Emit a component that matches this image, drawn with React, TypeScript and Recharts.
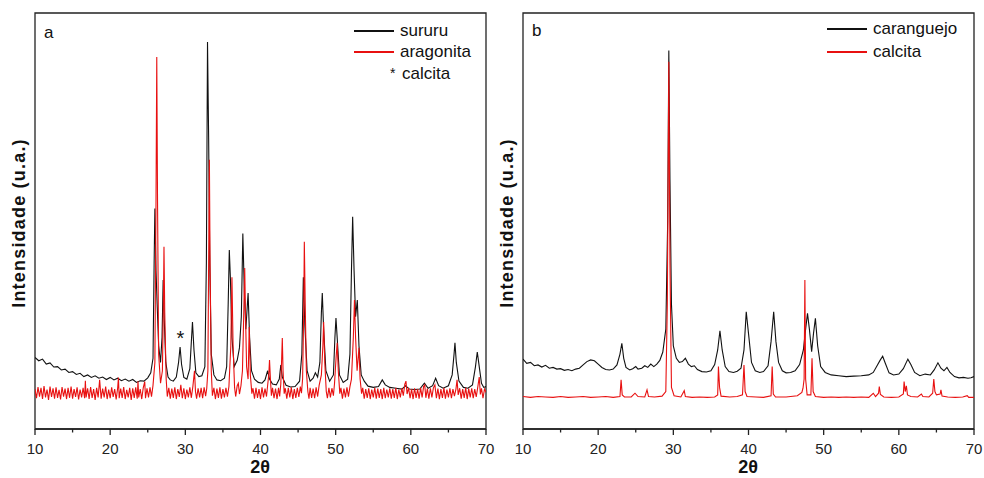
import React from "react";
import { LineChart, Line, XAxis, YAxis, ReferenceArea, ReferenceDot } from "recharts";

// 2θ (graus) x intensidade relativa (0–100)
const xTicks = [10, 15, 20, 25, 30, 35, 40, 45, 50, 55, 60, 65, 70];

const sururu: [number, number][] = [
  [10, 17.2], [10.5, 16.4], [11, 16.8], [11.5, 15.6], [12, 15.9], [12.5, 14.9], [13, 15.0], [13.5, 14.2], [14, 14.4],
  [14.5, 13.6], [15, 13.8], [15.5, 13.1], [16, 13.4], [16.5, 12.6], [17, 13.0], [17.5, 12.4], [18, 12.8], [18.5, 12.2],
  [19, 12.5], [19.5, 11.9], [20, 12.4], [20.5, 11.8], [21, 12.2], [21.5, 11.6], [22, 12.0], [22.5, 11.5], [23, 11.9],
  [23.5, 11.2], [24, 11.6], [24.5, 11.5], [25, 12.3], [25.4, 13.5], [25.7, 17], [25.85, 40], [25.95, 53], [26.1, 38],
  [26.25, 30], [26.45, 20], [26.7, 16], [26.9, 22], [27.05, 35.8], [27.2, 26], [27.4, 16], [27.7, 12.5], [28, 11.8],
  [28.4, 11.5], [28.8, 12.5], [29.1, 16], [29.3, 19.7], [29.5, 15.5], [29.8, 12.4], [30.2, 12.0], [30.6, 14.5],
  [30.8, 21], [30.95, 25.7], [31.15, 19], [31.4, 13.5], [31.8, 12.6], [32.2, 12.8], [32.6, 15], [32.8, 40], [32.95, 93],
  [33.1, 70], [33.25, 40], [33.45, 18], [33.8, 13], [34.2, 11.8], [34.7, 11.6], [35.2, 12.2], [35.5, 15], [35.7, 30],
  [35.85, 43], [36.0, 36], [36.2, 22], [36.5, 15], [36.9, 16.5], [37.2, 19.5], [37.45, 27], [37.65, 47], [37.85, 33],
  [38.05, 24], [38.35, 32.7], [38.55, 22], [38.8, 14], [39.2, 12], [39.7, 11.2], [40.2, 11.0], [40.6, 11.8], [40.95, 14],
  [41.2, 12], [41.6, 10.8], [42.1, 10.6], [42.5, 12], [42.7, 15.4], [42.9, 12.5], [43.4, 10.5], [44, 10.1], [44.6, 10.2],
  [45.2, 11.5], [45.5, 18], [45.7, 36.5], [45.9, 25], [46.2, 14], [46.6, 11.5], [47.0, 12.2], [47.3, 13.5], [47.6, 12.5],
  [47.9, 16], [48.1, 28], [48.22, 32.7], [48.4, 24], [48.7, 14], [49.2, 11.5], [49.7, 13], [49.9, 22], [50.04, 26.7],
  [50.2, 22], [50.5, 13], [51.0, 11.2], [51.6, 12], [51.9, 18], [52.1, 38], [52.26, 51], [52.45, 38], [52.65, 27],
  [52.88, 31], [53.1, 20], [53.4, 13], [53.8, 11.5], [54.3, 10.3], [55.0, 10.0], [55.7, 10.2], [56.2, 11.8], [56.6, 10.6],
  [57.2, 10.0], [58, 9.8], [58.8, 9.6], [59.3, 10.4], [59.8, 9.6], [60.5, 9.5], [61.2, 9.6], [61.8, 11], [62.3, 9.8],
  [62.9, 10.4], [63.3, 12.2], [63.7, 10.4], [64.3, 9.8], [65.0, 10.4], [65.5, 13], [65.75, 18], [65.87, 20.7], [66.05, 16],
  [66.4, 11.5], [67, 10.0], [67.6, 9.8], [68.2, 10.6], [68.6, 15], [68.84, 18.5], [69.1, 15], [69.4, 11], [69.7, 10], [70, 10.2],
];

const aragonita: [number, number][] = [
  [10.0, 9.6], [10.2, 7.4], [10.4, 10.1], [10.6, 7.8], [10.8, 9.9], [11.0, 7.2], [11.2, 10.3], [11.4, 7.6], [11.6, 9.5],
  [11.8, 7.0], [12.0, 10.2], [12.2, 7.7], [12.4, 9.8], [12.6, 7.3], [12.8, 10.0], [13.0, 7.5], [13.2, 9.4], [13.4, 7.1],
  [13.6, 10.1], [13.8, 7.8], [14.0, 9.7], [14.2, 7.2], [14.4, 9.9], [14.6, 7.5], [14.8, 10.2], [15.0, 7.3], [15.2, 9.6],
  [15.4, 7.7], [15.6, 10.0], [15.8, 7.1], [16.0, 9.5], [16.2, 7.6], [16.4, 9.9], [16.6, 7.4], [16.7, 11.6], [16.8, 7.6],
  [17.0, 9.8], [17.2, 7.2], [17.4, 10.1], [17.6, 7.5], [17.8, 9.6], [18.0, 7.0], [18.2, 9.9], [18.4, 7.6], [18.6, 11.8],
  [18.8, 7.3], [19.0, 9.7], [19.2, 7.6], [19.4, 10.2], [19.6, 7.2], [19.8, 9.5], [20.0, 7.4], [20.2, 10.0], [20.4, 7.7],
  [20.6, 9.6], [20.8, 7.1], [21.0, 9.9], [21.1, 12.4], [21.2, 7.4], [21.4, 9.7], [21.6, 7.5], [21.8, 10.1], [22.0, 7.2],
  [22.2, 9.4], [22.4, 7.6], [22.6, 9.9], [22.8, 7.0], [23.0, 9.8], [23.2, 7.5], [23.4, 10.0], [23.6, 7.3], [23.7, 11.5],
  [23.8, 7.6], [24.0, 9.6], [24.2, 7.2], [24.4, 9.9], [24.6, 11.4], [24.7, 7.4], [24.9, 9.8], [25.1, 7.6], [25.3, 10.0],
  [25.5, 7.8], [25.7, 10.5], [25.95, 16], [26.1, 55], [26.2, 89.4], [26.3, 55], [26.45, 18], [26.7, 11], [26.95, 14],
  [27.08, 30], [27.16, 43.8], [27.26, 28], [27.45, 12], [27.6, 7.8], [27.8, 9.9], [28.0, 7.3], [28.2, 9.7], [28.4, 7.5],
  [28.6, 10.0], [28.8, 7.2], [29.0, 9.6], [29.2, 7.7], [29.4, 10.6], [29.6, 7.4], [29.8, 9.8], [30.0, 7.2], [30.2, 9.5],
  [30.4, 7.6], [30.6, 10.0], [30.8, 7.5], [31.0, 10.2], [31.22, 14], [31.35, 9], [31.5, 7.3], [31.7, 9.8], [31.9, 7.6],
  [32.1, 9.9], [32.3, 7.4], [32.5, 10.0], [32.7, 7.9], [32.85, 9.8], [33.0, 14], [33.1, 40], [33.2, 64.7], [33.3, 38],
  [33.45, 14], [33.6, 8.0], [33.8, 9.9], [34.0, 7.2], [34.2, 9.7], [34.4, 7.5], [34.6, 10.0], [34.8, 7.3], [35.0, 9.6],
  [35.2, 7.6], [35.4, 9.9], [35.6, 7.8], [35.8, 10.2], [36.05, 20], [36.2, 36.5], [36.35, 20], [36.55, 10], [36.7, 7.8],
  [36.9, 10.4], [37.05, 11], [37.2, 8.4], [37.4, 10.4], [37.6, 14], [37.8, 30], [37.9, 38.7], [38.0, 28], [38.15, 15],
  [38.35, 12], [38.5, 24.5], [38.65, 13], [38.85, 8.5], [39.0, 9.8], [39.2, 7.3], [39.4, 9.9], [39.6, 7.5], [39.8, 9.6],
  [40.0, 7.2], [40.2, 10.0], [40.4, 7.6], [40.6, 9.7], [40.8, 7.8], [40.95, 10.5], [41.1, 13], [41.2, 16.6], [41.32, 12],
  [41.45, 8], [41.6, 9.9], [41.8, 7.4], [42.0, 9.7], [42.2, 7.2], [42.4, 9.9], [42.55, 7.8], [42.7, 10.8], [42.8, 16],
  [42.9, 21.9], [43.0, 14], [43.15, 8.5], [43.3, 9.8], [43.5, 7.3], [43.7, 9.9], [43.9, 7.6], [44.1, 10.0], [44.3, 7.2],
  [44.5, 9.6], [44.7, 7.5], [44.9, 9.9], [45.1, 7.7], [45.3, 10.2], [45.45, 8.6], [45.6, 12], [45.75, 28], [45.83, 45],
  [45.95, 30], [46.1, 14], [46.3, 9], [46.45, 7.3], [46.6, 9.9], [46.8, 7.5], [47.0, 9.7], [47.2, 7.4], [47.4, 10.0],
  [47.6, 7.8], [47.8, 10.5], [48.1, 13], [48.3, 20], [48.4, 25.7], [48.55, 16], [48.75, 9], [48.9, 7.4], [49.1, 9.9],
  [49.3, 7.6], [49.5, 9.8], [49.7, 8.0], [49.85, 11], [50.05, 17], [50.2, 20.7], [50.35, 14], [50.55, 8.5], [50.7, 9.9],
  [50.9, 7.3], [51.1, 9.7], [51.3, 7.6], [51.5, 10.0], [51.7, 7.8], [51.9, 10.2], [52.1, 12], [52.35, 22], [52.5, 31],
  [52.65, 22], [52.85, 14], [53.1, 19.5], [53.25, 12], [53.45, 8.5], [53.6, 9.9], [53.8, 7.3], [54.0, 9.6], [54.2, 7.5],
  [54.4, 9.8], [54.6, 7.2], [54.8, 9.5], [55.0, 7.6], [55.2, 9.9], [55.4, 7.3], [55.6, 9.7], [55.8, 7.5], [56.0, 9.6],
  [56.2, 7.2], [56.4, 9.9], [56.6, 7.4], [56.8, 9.5], [57.0, 7.6], [57.2, 9.8], [57.4, 7.3], [57.6, 9.6], [57.8, 7.5],
  [58.0, 9.9], [58.2, 7.2], [58.4, 9.5], [58.6, 7.6], [58.8, 9.8], [59.0, 8.0], [59.2, 10.8], [59.35, 11.5], [59.5, 8.4],
  [59.7, 9.9], [59.9, 7.4], [60.1, 9.6], [60.3, 7.2], [60.5, 9.8], [60.7, 7.5], [60.9, 9.6], [61.1, 7.3], [61.3, 9.9],
  [61.5, 7.6], [61.7, 10.2], [61.85, 10.6], [62.0, 7.5], [62.2, 9.7], [62.4, 7.3], [62.6, 9.8], [62.8, 7.6], [63.0, 9.9],
  [63.2, 10.6], [63.4, 7.4], [63.6, 9.7], [63.8, 7.2], [64.0, 9.6], [64.2, 7.5], [64.4, 9.9], [64.6, 7.3], [64.8, 9.5],
  [65.0, 7.6], [65.2, 9.8], [65.4, 7.4], [65.6, 9.6], [65.8, 7.9], [66.0, 9.6], [66.15, 11.8], [66.3, 8.2], [66.5, 9.8],
  [66.7, 7.3], [66.9, 9.6], [67.1, 7.5], [67.3, 9.9], [67.5, 7.2], [67.7, 9.7], [67.9, 7.6], [68.1, 9.8], [68.3, 7.4],
  [68.5, 9.6], [68.7, 7.7], [68.9, 10.0], [69.1, 12.5], [69.25, 8.3], [69.4, 9.8], [69.6, 7.4], [69.8, 9.6], [70.0, 8.8],
];

const caranguejo: [number, number][] = [
  [10, 16.8], [10.5, 15.8], [11, 16.0], [11.5, 15.2], [12, 15.4], [12.5, 14.9], [13, 15.3], [13.5, 14.6], [14, 14.8],
  [14.5, 14.4], [15, 14.5], [15.5, 14.1], [16, 14.3], [16.5, 14.0], [17, 14.4], [17.5, 14.6], [18, 15.4], [18.5, 16.2],
  [19.0, 16.6], [19.5, 16.4], [20.0, 15.6], [20.5, 14.8], [21, 14.3], [21.5, 14.2], [22, 14.4], [22.5, 15.4], [22.9, 18],
  [23.15, 20.6], [23.4, 17], [23.7, 14.8], [24.2, 14.2], [24.6, 14.5], [25.0, 15.0], [25.3, 14.4], [25.8, 14.6],
  [26.2, 15.2], [26.6, 14.8], [27.0, 15.6], [27.4, 15.0], [27.8, 15.6], [28.2, 16.5], [28.6, 18.5], [29.0, 24],
  [29.25, 50], [29.4, 91], [29.55, 60], [29.75, 30], [30.0, 20], [30.4, 17], [30.8, 16.0], [31.2, 16.2], [31.6, 17.0],
  [32.0, 15.6], [32.4, 15.0], [32.8, 15.2], [33.2, 14.3], [33.8, 13.8], [34.4, 13.7], [35.0, 14.0], [35.5, 15.5],
  [35.9, 19], [36.2, 23.6], [36.5, 19], [36.9, 15], [37.4, 13.8], [38.0, 13.6], [38.5, 13.9], [39.0, 14.6], [39.4, 19],
  [39.7, 28.2], [40.0, 23], [40.4, 16], [40.9, 14.0], [41.5, 13.6], [42.0, 13.8], [42.6, 15.2], [43.0, 21], [43.35, 28.2],
  [43.65, 21], [44.0, 16], [44.5, 14.0], [45.0, 13.5], [45.6, 13.6], [46.2, 14], [46.8, 15.5], [47.3, 19], [47.6, 24],
  [47.85, 27.8], [48.1, 24], [48.4, 18.6], [48.65, 23], [48.9, 26.6], [49.2, 20], [49.6, 15], [50.2, 13.6], [51, 13.0],
  [52, 12.8], [53, 12.6], [54, 12.7], [55, 12.8], [56, 13.0], [56.6, 13.6], [57.1, 15.2], [57.5, 16.5], [57.85, 17.5],
  [58.2, 15.8], [58.7, 13.5], [59.3, 13.0], [60.0, 13.2], [60.6, 14.5], [61.2, 16.8], [61.6, 15.5], [62.1, 13.6],
  [62.8, 12.8], [63.5, 13.2], [64.2, 13.0], [64.7, 14.2], [65.2, 15.9], [65.6, 14.6], [66.0, 14.0], [66.4, 14.8],
  [66.8, 13.6], [67.4, 12.6], [68, 12.3], [68.6, 12.4], [69.2, 12.2], [69.6, 12.3], [70, 12.6],
];

const calcita: [number, number][] = [
  [10, 7.8], [11, 7.6], [12, 7.8], [13, 7.7], [14, 7.6], [15, 7.8], [16, 7.6], [17, 7.7], [18, 7.8], [19, 7.6], [20, 7.7],
  [21, 7.8], [22, 7.6], [22.9, 7.8], [23.05, 11.8], [23.2, 8.2], [23.5, 7.7], [24.4, 7.7], [24.9, 8.6], [25.3, 7.8],
  [26.2, 7.7], [26.5, 9.4], [26.7, 7.8], [27.5, 7.7], [28.5, 7.9], [29.0, 9], [29.2, 30], [29.4, 88.3], [29.55, 40],
  [29.75, 10], [30.1, 8], [31.0, 7.7], [31.45, 9.2], [31.6, 7.8], [32.5, 7.6], [33.5, 7.7], [34.5, 7.6], [35.5, 7.7],
  [35.9, 8.2], [36.0, 15], [36.15, 10], [36.35, 7.9], [37.5, 7.7], [38.5, 7.8], [39.2, 8.2], [39.4, 15.4], [39.55, 9],
  [39.8, 7.8], [41, 7.7], [42, 7.6], [43.0, 8.0], [43.15, 15], [43.3, 8.4], [43.6, 7.7], [45, 7.7], [46.5, 8.0],
  [47.1, 8.8], [47.25, 9.8], [47.4, 12], [47.5, 35.8], [47.6, 12], [47.8, 8.2], [48.3, 8.2], [48.45, 17], [48.6, 9],
  [48.9, 7.8], [50, 7.6], [51, 7.7], [52, 7.6], [53, 7.7], [54, 7.6], [55, 7.7], [56.0, 7.6], [56.6, 8.6], [56.9, 7.8],
  [57.3, 8.6], [57.4, 10.2], [57.55, 8.3], [58, 7.7], [59, 7.6], [60, 7.7], [60.6, 8.4], [60.7, 11.4], [60.85, 9],
  [61.0, 10.4], [61.15, 8.2], [61.6, 7.8], [62.5, 7.7], [63.0, 8.4], [63.2, 7.8], [64.0, 7.7], [64.5, 8.6], [64.65, 12.0],
  [64.8, 9], [65.0, 8.2], [65.5, 8.4], [65.6, 9.4], [65.75, 7.9], [66.5, 7.7], [67.5, 7.6], [68.5, 7.7], [69.1, 8.0],
  [69.3, 7.6], [70, 7.6],
];

const BLACK = "#111";
const RED = "#e81010";
const FONT = "'Liberation Sans', Arial, sans-serif";

const toRows = (pts: [number, number][]) => pts.map(([x, y]) => ({ x, y }));

function Tick(props: any) {
  const { x, y, payload } = props;
  const major = payload.value % 10 === 0;
  return (
    <g>
      <line x1={x} y1={y} x2={x} y2={y + (major ? 6 : 3.5)} stroke="#222" strokeWidth={1.3} />
      {major && (
        <text x={x} y={y + 25} textAnchor="middle" fontSize={15} fill="#222" fontFamily={FONT}>
          {payload.value}
        </text>
      )}
    </g>
  );
}

type Series = { name: string; color: string; pts: [number, number][] };

// plot box: 451px wide from `left + 35`, from y=13 to y=429
function Panel({ left, width, series, children }: { left: number; width: number; series: Series[]; children?: React.ReactNode }) {
  return (
    <div style={{ position: "absolute", left, top: 0, width, height: 478 }}>
      <LineChart width={width} height={478} margin={{ top: 13, left: 35, right: width - 486, bottom: 0 }}>
        <XAxis
          type="number"
          dataKey="x"
          domain={[10, 70]}
          ticks={xTicks}
          allowDataOverflow
          height={49}
          tickSize={0}
          tickMargin={0}
          tickLine={false}
          tick={<Tick />}
          axisLine={{ stroke: "#222", strokeWidth: 1.3 }}
          interval={0}
        />
        <YAxis type="number" domain={[0, 100]} hide allowDataOverflow />
        <ReferenceArea x1={10} x2={70} y1={0} y2={100} fill="none" stroke="#222" strokeWidth={1.3} ifOverflow="visible" />
        {series.map((s) => (
          <Line
            key={s.name}
            data={toRows(s.pts)}
            dataKey="y"
            type="linear"
            stroke={s.color}
            strokeWidth={1.1}
            dot={false}
            isAnimationActive={false}
          />
        ))}
        {children}
      </LineChart>
    </div>
  );
}

const txt: React.CSSProperties = { position: "absolute", fontFamily: FONT, color: "#111", whiteSpace: "nowrap", lineHeight: 1 };

function LegendRow({ x, y, color, label }: { x: number; y: number; color: string; label: string }) {
  return (
    <>
      <div style={{ position: "absolute", left: x, top: y - 0.6, width: 40, height: 1.4, background: color }} />
      <div style={{ ...txt, left: x + 46, top: y - 9, fontSize: 17 }}>{label}</div>
    </>
  );
}

function YLabel({ cx }: { cx: number }) {
  return (
    <div
      style={{
        ...txt,
        left: cx,
        top: 223,
        fontSize: 18,
        fontWeight: "bold",
        letterSpacing: 1.2,
        transform: "translate(-50%, -50%) rotate(-90deg)",
      }}
    >
      Intensidade (u.a.)
    </div>
  );
}

function XLabel({ cx }: { cx: number }) {
  return (
    <div style={{ ...txt, left: cx, top: 467, fontSize: 18, fontWeight: "bold", transform: "translate(-50%, -50%)" }}>
      2θ
    </div>
  );
}

export default function App() {
  return (
    <div style={{ position: "absolute", left: 0, top: 0, width: 984, height: 478, background: "#fff", overflow: "hidden" }}>
      <Panel
        left={0}
        width={510}
        series={[
          { name: "sururu", color: BLACK, pts: sururu },
          { name: "aragonita", color: RED, pts: aragonita },
        ]}
      >
        <ReferenceDot
          x={29.35}
          y={22}
          r={0}
          ifOverflow="visible"
          label={{ value: "*", position: "center", fontSize: 20, fill: "#111", fontFamily: FONT }}
        />
      </Panel>
      <Panel
        left={488}
        width={496}
        series={[
          { name: "caranguejo", color: BLACK, pts: caranguejo },
          { name: "calcita", color: RED, pts: calcita },
        ]}
      />

      <YLabel cx={19} />
      <YLabel cx={507} />
      <XLabel cx={260} />
      <XLabel cx={748} />

      <div style={{ ...txt, left: 44, top: 24, fontSize: 17 }}>a</div>
      <div style={{ ...txt, left: 532, top: 22, fontSize: 17 }}>b</div>

      <LegendRow x={354} y={31} color={BLACK} label="sururu" />
      <LegendRow x={354} y={52} color={RED} label="aragonita" />
      <div style={{ ...txt, left: 390, top: 66, fontSize: 14 }}>*</div>
      <div style={{ ...txt, left: 402, top: 65, fontSize: 17 }}>calcita</div>

      <LegendRow x={827} y={29} color={BLACK} label="caranguejo" />
      <LegendRow x={827} y={52} color={RED} label="calcita" />
    </div>
  );
}
